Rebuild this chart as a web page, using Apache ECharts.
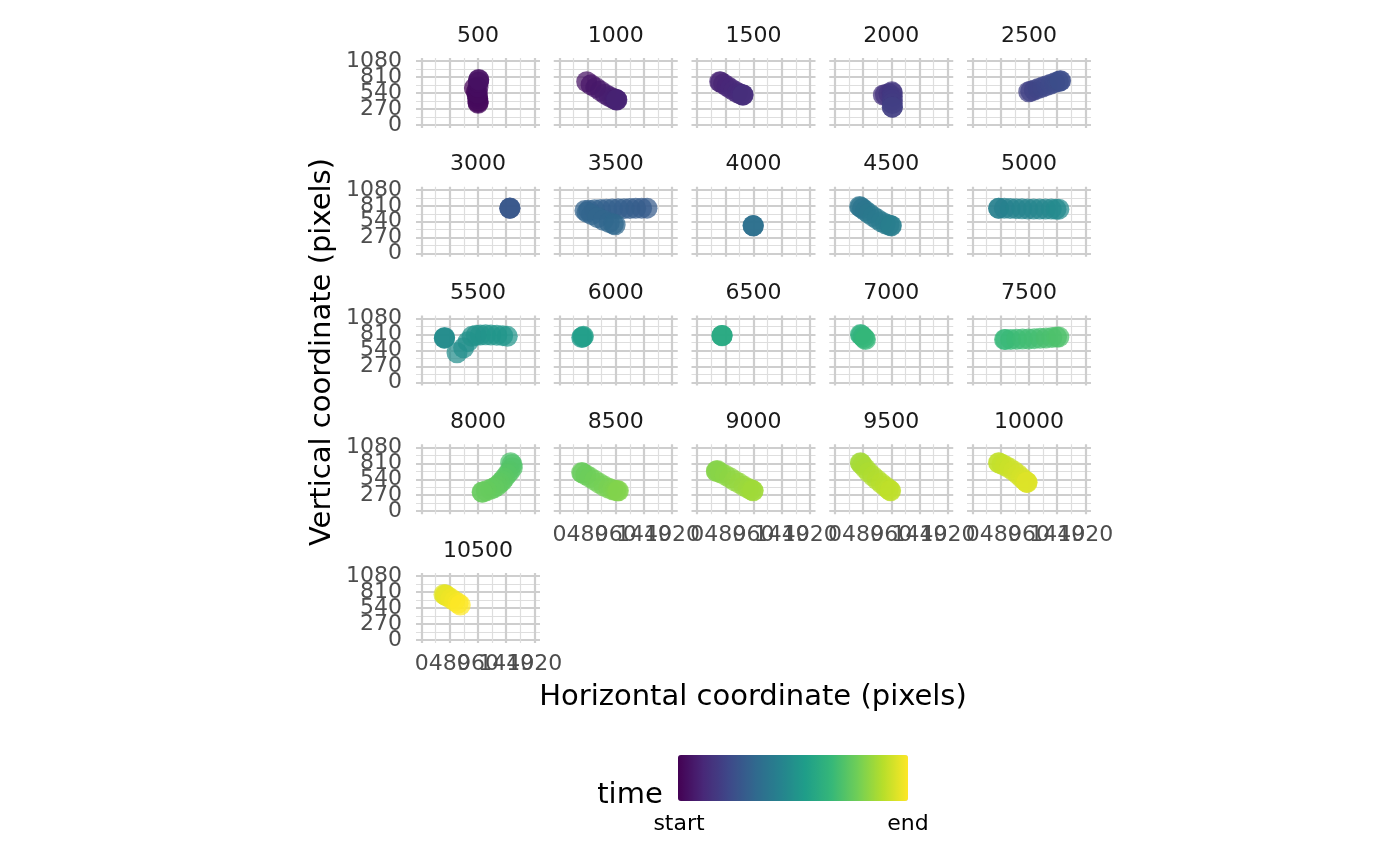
<!DOCTYPE html>
<html>
<head>
<meta charset="utf-8">
<title>gaze by time window</title>
<script src="https://cdn.jsdelivr.net/npm/echarts@6/dist/echarts.min.js"></script>
<style>
html, body { margin: 0; padding: 0; background: #fff; }
#chart { width: 1400px; height: 866px; }
</style>
</head>
<body>
<div id="chart"></div>
<script>
// facet values (time windows)
var panels = [500, 1000, 1500, 2000, 2500, 3000, 3500, 4000, 4500, 5000,
    5500, 6000, 6500, 7000, 7500, 8000, 8500, 9000, 9500, 10000, 10500];
var xTicks = [0, 480, 960, 1440, 1920];
var xMinor = [240, 720, 1200, 1680];
var yTicks = [0, 270, 540, 810, 1080];
var yMinor = [135, 405, 675, 945];
var legendLabels = ['start', 'end'];

// gaze samples: [x, y, time]
var g500 = [[898,624,40],[933,560,80],[950,480,120],[962,400,160],[962,366,200],[960,380,240],[955,450,280],[950,540,320],[960,640,360],[967,726,400],[972,771,440],[972,760,480]];
var g1000 = [[465,731,520],[540,680,580],[620,630,640],[700,575,700],[780,520,760],[850,480,820],[910,450,860],[950,432,900],[970,425,930],[979,422,960],[975,428,990]];
var g1500 = [[384,731,1010],[400,725,1040],[450,695,1080],[510,655,1120],[570,615,1160],[630,578,1200],[690,545,1240],[740,520,1280],[775,508,1320],[783,506,1360],[780,510,1400]];
var g2000 = [[825,506,1520],[860,510,1560],[920,530,1600],[970,560,1640],[979,540,1700],[979,480,1760],[979,420,1820],[979,360,1880],[979,300,1940],[979,300,1980]];
var g2500 = [[955,562,2020],[990,570,2060],[1050,590,2120],[1120,615,2180],[1190,640,2240],[1260,665,2300],[1330,690,2360],[1400,715,2400],[1460,735,2440],[1498,748,2470],[1490,745,2495]];
var g3000 = [[1503,771,2600],[1500,768,2750],[1505,773,2900]];
var g3500 = [[1493,771,3010],[1400,770,3040],[1300,768,3070],[1200,765,3100],[1100,762,3130],[1000,760,3160],[900,757,3190],[800,752,3220],[700,747,3250],[600,742,3280],[500,736,3310],[435,731,3340],[470,700,3370],[550,660,3400],[650,610,3430],[750,565,3450],[850,525,3470],[920,500,3485],[950,489,3495]];
var g4000 = [[955,472,3600],[958,470,3750],[952,475,3900]];
var g4500 = [[420,800,4010],[435,788,4050],[470,765,4090],[520,725,4130],[580,680,4170],[650,630,4210],[720,585,4250],[790,540,4300],[860,505,4350],[920,485,4400],[955,474,4450],[962,472,4490]];
var g5000 = [[441,771,4510],[445,768,4540],[540,768,4580],[640,765,4620],[740,762,4660],[840,760,4700],[940,758,4740],[1040,757,4780],[1140,756,4820],[1240,757,4860],[1340,755,4900],[1420,754,4940],[1469,754,4980]];
var g5500 = [[389,754,5010],[392,760,5050],[386,750,5090],[602,501,5150],[715,585,5200],[790,690,5250],[859,781,5290],[930,800,5330],[1000,805,5360],[1090,806,5390],[1180,805,5420],[1280,800,5450],[1380,792,5480],[1459,781,5500]];
var g6000 = [[380,760,5600],[396,771,5750],[410,780,5900]];
var g6500 = [[424,793,6100],[426,790,6250],[422,795,6400]];
var g7000 = [[435,810,6600],[450,800,6700],[480,770,6800],[505,745,6900],[521,726,6980]];
var g7500 = [[543,726,7010],[560,727,7040],[650,728,7080],[750,731,7130],[850,734,7180],[950,737,7230],[1050,741,7280],[1150,747,7330],[1250,754,7380],[1350,762,7430],[1430,768,7470],[1469,771,7495]];
var g8000 = [[1516,822,7510],[1540,790,7550],[1545,737,7600],[1500,670,7650],[1459,624,7700],[1410,560,7750],[1373,511,7800],[1330,470,7840],[1287,427,7880],[1230,395,7920],[1173,371,7950],[1100,345,7975],[1030,325,7995],[1035,318,7998]];
var g8500 = [[379,653,8010],[395,645,8040],[450,615,8080],[520,572,8130],[600,522,8180],[680,472,8230],[760,425,8280],[840,388,8330],[910,362,8380],[960,348,8420],[990,343,8460],[1006,343,8495]];
var g9000 = [[327,680,8510],[345,690,8530],[330,670,8560],[400,650,8600],[480,610,8650],[560,565,8700],[640,515,8750],[720,470,8800],[800,420,8850],[870,385,8900],[920,360,8940],[955,343,8980],[950,348,8995]];
var g9500 = [[435,822,9010],[440,810,9040],[470,780,9080],[520,720,9130],[580,655,9180],[650,590,9230],[720,530,9280],[790,470,9330],[860,415,9380],[910,375,9430],[940,350,9470],[950,343,9495]];
var g10000 = [[441,822,9510],[450,815,9540],[500,795,9580],[560,765,9630],[630,725,9680],[700,680,9730],[770,625,9780],[830,570,9830],[880,525,9880],[915,495,9930],[927,484,9970],[925,490,9995]];
var g10500 = [[380,770,10010],[401,759,10060],[410,755,10110],[440,738,10180],[500,700,10260],[560,660,10340],[620,620,10420],[658,591,10495]];

var gaze = [g500, g1000, g1500, g2000, g2500, g3000, g3500, g4000, g4500, g5000,
    g5500, g6000, g6500, g7000, g7500, g8000, g8500, g9000, g9500, g10000, g10500];

var viridis = ['#440154', '#482878', '#3e4989', '#31688e', '#26828e',
    '#1f9e89', '#35b779', '#6ece58', '#b5de2b', '#fde725'];

var FONT = 'DejaVu Sans';
var PW = 124, PH = 70;   // panel size
var chart = echarts.init(document.getElementById('chart'));

function plain(v) { return String(v); }
// every other break, so echarts does not drop the overlapping labels
function everyOther(arr, from) {
    return arr.filter(function (v, k) { return k % 2 === from; });
}

// grid lines are drawn as full-length inside ticks so they can sit on the breaks
function gridAxis(i, dim, ticks, labels, major, showLabel) {
    var isX = dim === 'x';
    return {
        gridIndex: i, type: 'value',
        min: isX ? -96 : -54, max: isX ? 2016 : 1134,
        position: isX ? 'bottom' : 'left',
        axisLine: { show: false, onZero: false },
        axisTick: {
            show: true, inside: true, customValues: ticks,
            length: isX ? PH : PW,
            lineStyle: { color: major ? '#cecece' : '#dedede', width: major ? 2.2 : 1.2 }
        },
        axisLabel: {
            show: showLabel, customValues: labels, formatter: plain,
            showMinLabel: true, showMaxLabel: true, hideOverlap: false,
            margin: isX ? 10 : 14, fontSize: 22, color: '#4d4d4d', fontFamily: FONT
        },
        splitLine: { show: false }
    };
}

var grids = [], xAxes = [], yAxes = [], series = [], texts = [], seriesIdx = [];
for (var i = 0; i < panels.length; i++) {
    var col = i % 5, row = Math.floor(i / 5);
    var gLeft = 416 + col * 137.75, gTop = 58 + row * 128.75;
    var showX = i + 5 >= panels.length;
    var showY = col === 0;
    grids.push({ left: gLeft, top: gTop, width: PW, height: PH, outerBoundsMode: 'none' });

    // minor first, major on top
    xAxes.push(gridAxis(i, 'x', xMinor, everyOther(xTicks, 1), false, showX));
    xAxes.push(gridAxis(i, 'x', xTicks, everyOther(xTicks, 0), true, showX));
    yAxes.push(gridAxis(i, 'y', yMinor, everyOther(yTicks, 1), false, showY));
    yAxes.push(gridAxis(i, 'y', yTicks, everyOther(yTicks, 0), true, showY));

    series.push({
        type: 'scatter',
        xAxisIndex: 2 * i + 1,
        yAxisIndex: 2 * i + 1,
        data: gaze[i],
        symbolSize: 21,
        clip: false,
        itemStyle: { opacity: 0.72 }
    });
    seriesIdx.push(i);

    // strip title
    texts.push({
        type: 'text', x: gLeft + PW / 2, y: gTop - 22,
        style: {
            text: String(panels[i]), textAlign: 'center', textVerticalAlign: 'middle',
            align: 'center', verticalAlign: 'middle',
            fontSize: 22, fontFamily: FONT, fill: '#1a1a1a'
        }
    });
}

function label(txt, x, y, size, rot) {
    return {
        type: 'text', x: x, y: y, rotation: rot || 0,
        style: {
            text: txt, textAlign: 'center', textVerticalAlign: 'middle',
            align: 'center', verticalAlign: 'middle',
            fontSize: size, fontFamily: FONT, fill: '#000'
        }
    };
}
texts.push(label('Horizontal coordinate (pixels)', 753, 697, 29));
texts.push(label('Vertical coordinate (pixels)', 322, 352, 29, Math.PI / 2));
texts.push(label('time', 630, 795, 29));
texts.push(label(legendLabels[0], 679, 824, 22));
texts.push(label(legendLabels[1], 908, 824, 22));

var option = {
    backgroundColor: '#fff',
    animation: false,
    grid: grids,
    xAxis: xAxes,
    yAxis: yAxes,
    visualMap: {
        type: 'continuous',
        min: 0,
        max: 10500,
        dimension: 2,
        seriesIndex: seriesIdx,
        orient: 'horizontal',
        left: 678,
        top: 755,
        itemWidth: 46,
        itemHeight: 230,
        padding: 0,
        calculable: false,
        hoverLink: false,
        inRange: { color: viridis }
    },
    graphic: { elements: texts },
    series: series
};
chart.setOption(option);
</script>
</body>
</html>
